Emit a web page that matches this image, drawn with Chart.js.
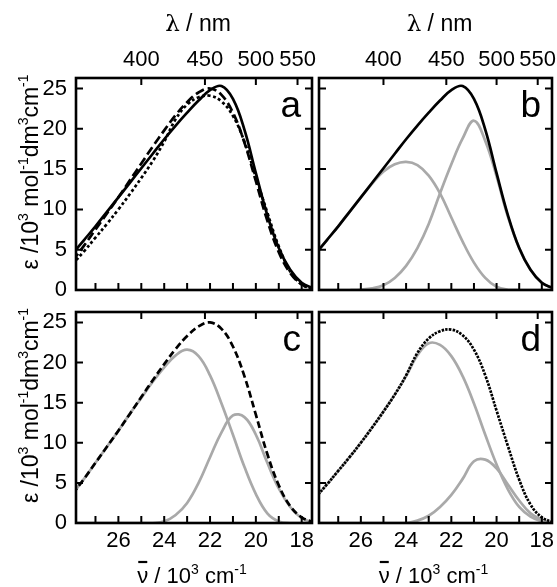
<!DOCTYPE html>
<html><head><meta charset="utf-8">
<script src="https://cdn.jsdelivr.net/npm/chart.js@4.4.1/dist/chart.umd.min.js"></script>
<style>
html,body{margin:0;padding:0;background:#fff;}
#wrap{position:relative;width:557px;height:587px;overflow:hidden;background:#fff;}
canvas{position:absolute;}
</style></head><body>
<div id="wrap">
<canvas id="pa" width="316" height="300" style="left:0;top:0"></canvas>
<canvas id="pb" width="242" height="300" style="left:315px;top:0"></canvas>
<canvas id="pc" width="316" height="287" style="left:0;top:300px"></canvas>
<canvas id="pd" width="242" height="287" style="left:315px;top:300px"></canvas>
</div>
<script>
// ---- data (wavenumber in 10^3 cm^-1, epsilon in 10^3 mol^-1 dm^3 cm^-1) ----
const wavenumber = [28,27.5,27,26.5,26,25.5,25,24.5,24,23.5,23,22.5,22,21.5,21,20.5,20,19.5,19,18.5,18,17.5];
const specSolid  = [4.5,6.2,7.9,9.7,11.5,13.3,15.1,16.9,18.7,20.4,22.0,23.5,24.8,25.3,23.7,19.9,14.5,9.3,5.2,2.5,0.9,0.2];
const specDashed = [3.6,5.5,7.5,9.5,11.5,13.6,15.7,17.8,19.8,21.7,23.3,24.5,25.0,24.2,22.0,18.3,13.5,8.6,4.7,2.1,0.7,0.1];
const specDotted = [3.2,4.8,6.5,8.2,10.0,11.9,13.9,16.0,18.4,21.2,23.0,23.9,24.1,23.4,21.6,18.4,14.0,9.6,5.4,2.3,0.7,0.1];
const bandB1 = [4.5,6.2,7.9,9.7,11.5,13.2,14.7,15.6,15.9,15.5,14.2,12.0,9.0,6.0,3.4,1.5,0.4,0.05,0,0,0,0];
const bandB2 = [0,0,0,0,0.05,0.2,0.6,1.5,3.0,5.2,8.2,12.0,15.6,18.8,21.0,18.5,14.1,9.1,5.2,2.5,0.9,0.2];
const bandC1 = [3.6,5.5,7.5,9.5,11.5,13.6,15.6,17.6,19.4,20.9,21.6,20.8,18.4,14.9,11.0,7.0,3.6,1.2,0.2,0,0,0];
const bandC2 = [0,0,0,0,0,0,0,0,0.2,1.0,2.5,5.0,8.2,11.3,13.4,13.2,11.0,7.5,4.3,2.0,0.6,0.1];
const bandD1 = [3.2,4.8,6.5,8.2,10.0,11.9,13.9,16.0,18.3,20.9,22.4,22.2,20.8,18.3,14.9,11.0,7.3,4.2,2.0,0.8,0.2,0];
const bandD2 = [0,0,0,0,0,0,0,0,0,0.3,0.9,2.0,3.5,5.5,7.7,7.9,6.8,4.8,2.8,1.2,0.4,0.05];
// ---- ticks ----
const nmTicks = [400,450,500,550];
const wnMajor = [26,24,22,20,18];
const wnMinor = [27,25,23,21,19];
const epsTicks = [0,5,10,15,20,25];
const panelLetters = ['a','b','c','d'];

const X_MIN = 17.55, X_MAX = 27.85, Y_MAX = 26.3;
const FONT = '"Liberation Sans", Arial, sans-serif';
const GRAY = '#a9a9a9';

function pts(arr){ return wavenumber.map((v,i)=>({x:v,y:arr[i]})); }
function ds(arr, color, dash){
  return {data:pts(arr), borderColor:color, borderWidth:2.7, borderDash:dash||[], pointRadius:0, tension:0.4, fill:false};
}

function drawRich(ctx, segs, size){
  let w = 0;
  segs.forEach(s=>{ ctx.font = (s[1]? Math.round(size*0.62):size)+'px '+(s[2]||FONT); s.w = ctx.measureText(s[0]).width; w += s.w; });
  let x = -w/2;
  segs.forEach(s=>{
    ctx.font = (s[1]? Math.round(size*0.62):size)+'px '+(s[2]||FONT);
    ctx.fillText(s[0], x, s[1]? -size*0.42 : 0);
    s.x = x; x += s.w;
  });
  return segs;
}

const framePlugin = {
  id:'frame',
  afterDraw(chart, args, o){
    const {ctx, chartArea:a, scales} = chart;
    ctx.save();
    ctx.strokeStyle='#000'; ctx.fillStyle='#000';
    ctx.lineWidth = 2;
    ctx.beginPath();
    wnMajor.concat(wnMinor).forEach(v=>{ const x=scales.x.getPixelForValue(v); ctx.moveTo(x,a.bottom); ctx.lineTo(x,a.bottom-7); });
    nmTicks.forEach(nm=>{ const x=scales.xTop.getPixelForValue(1e4/nm); ctx.moveTo(x,a.top); ctx.lineTo(x,a.top+7); });
    epsTicks.forEach(v=>{ const y=scales.y.getPixelForValue(v); ctx.moveTo(a.left,y); ctx.lineTo(a.left+7,y); ctx.moveTo(a.right,y); ctx.lineTo(a.right-7,y); });
    ctx.stroke();
    ctx.lineWidth = 2.6;
    ctx.strokeRect(a.left, a.top, a.right-a.left, a.bottom-a.top);
    ctx.font = '37px '+FONT; ctx.textAlign='right'; ctx.textBaseline='alphabetic';
    ctx.fillText(o.letter, a.right-11, a.top+39);
    ctx.textAlign='left';
    const cx = (a.left+a.right)/2;
    if (o.topTitle){
      ctx.save(); ctx.translate(cx+4, 31);
      drawRich(ctx, [['λ',false,'"DejaVu Serif", serif'],[' / nm',false]], 23);
      ctx.restore();
    }
    if (o.leftTitle){
      ctx.save(); ctx.translate(38, (a.top+a.bottom)/2 - 12); ctx.rotate(-Math.PI/2);
      drawRich(ctx, [['ε /10',false],['3',true],[' mol',false],['-1',true],['dm',false],['3',true],['cm',false],['-1',true]], 23);
      ctx.restore();
    }
    if (o.bottomTitle){
      ctx.save(); ctx.translate(cx-2, chart.height-4);
      const s = drawRich(ctx, [['ν',false],[' / 10',false],['3',true],[' cm',false],['-1',true]], 22);
      ctx.lineWidth = 2.2; ctx.beginPath();
      ctx.moveTo(s[0].x+1, -21); ctx.lineTo(s[0].x+s[0].w-1, -21); ctx.stroke();
      ctx.restore();
    }
    ctx.restore();
  }
};

function makePanel(id, letter, sets, cfg){
  const tickFont = {family:FONT, size:22};
  new Chart(document.getElementById(id), {
    type:'line',
    data:{datasets:sets},
    plugins:[framePlugin],
    options:{
      responsive:false, animation:false, devicePixelRatio:1,
      layout:{padding:{left:0,top:0,right:cfg.rightPad,bottom:0}},
      plugins:{legend:{display:false}, tooltip:{enabled:false}, title:{display:false},
        frame:{letter:letter, topTitle:cfg.top, leftTitle:cfg.left, bottomTitle:cfg.bottom}},
      scales:{
        x:{type:'linear', position:'bottom', min:X_MIN, max:X_MAX, reverse:true,
           grid:{display:false, drawTicks:false}, border:{display:false},
           afterBuildTicks:s=>{ s.ticks = wnMajor.concat(wnMinor).sort((p,q)=>q-p).map(v=>({value:v})); },
           ticks:{display:cfg.bottom, autoSkip:false, maxRotation:0, minRotation:0, padding:5, color:'#000', font:tickFont,
                  callback:v=> wnMajor.includes(v) ? String(v) : ''},
           afterFit:s=>{ s.height = cfg.bottomH; s.paddingLeft=0; s.paddingRight=0; }},
        xTop:{type:'linear', position:'top', min:X_MIN, max:X_MAX, reverse:true,
           grid:{display:false, drawTicks:false}, border:{display:false},
           afterBuildTicks:s=>{ s.ticks = nmTicks.map(nm=>({value:1e4/nm})); },
           ticks:{display:cfg.top, autoSkip:false, maxRotation:0, minRotation:0, padding:5, color:'#000', font:tickFont,
                  callback:(v,i)=> String(nmTicks[i])},
           afterFit:s=>{ s.height = cfg.topH; s.paddingLeft=0; s.paddingRight=0; }},
        y:{type:'linear', position:'left', min:0, max:Y_MAX,
           grid:{display:false, drawTicks:false}, border:{display:false},
           afterBuildTicks:s=>{ s.ticks = epsTicks.map(v=>({value:v})); },
           ticks:{display:cfg.left, padding:9, color:'#000', font:tickFont, callback:v=>String(v)},
           afterFit:s=>{ s.width = cfg.leftW; s.paddingTop=0; s.paddingBottom=0; }}
      }
    }
  });
}

makePanel('pa', panelLetters[0], [ds(specSolid,'#000'), ds(specDashed,'#000',[9,4]), ds(specDotted,'#000',[3,2.5])],
  {top:true,left:true,bottom:false,topH:78,bottomH:10,leftW:76,rightPad:4});
makePanel('pb', panelLetters[1], [ds(specSolid,'#000'), ds(bandB1,GRAY), ds(bandB2,GRAY)],
  {top:true,left:false,bottom:false,topH:78,bottomH:10,leftW:4,rightPad:5});
makePanel('pc', panelLetters[2], [ds(specDashed,'#000',[7,3.5]), ds(bandC1,GRAY), ds(bandC2,GRAY)],
  {top:false,left:true,bottom:true,topH:12,bottomH:64,leftW:76,rightPad:4});
makePanel('pd', panelLetters[3], [ds(specDotted,'#000',[2.5,1.2]), ds(bandD1,GRAY), ds(bandD2,GRAY)],
  {top:false,left:false,bottom:true,topH:12,bottomH:64,leftW:4,rightPad:5});
</script>
</body></html>
